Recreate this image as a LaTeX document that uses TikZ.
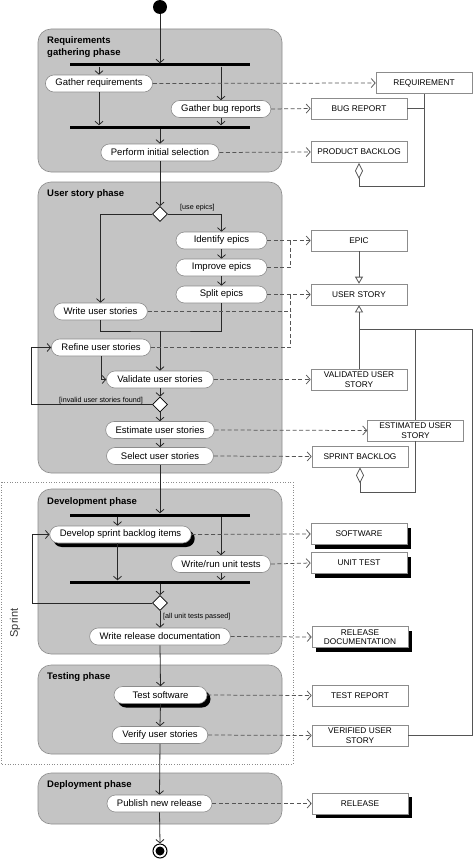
\documentclass[tikz,border=0pt]{standalone}
\usepackage{fontspec}
\setmainfont{Liberation Sans}
\usetikzlibrary{arrows.meta,shapes.geometric,shadows}

\definecolor{phasefill}{RGB}{196,196,196}
\definecolor{phaseline}{RGB}{140,140,140}
\definecolor{flowgray}{RGB}{40,40,40}
\definecolor{objgray}{RGB}{85,85,85}

\begin{document}
\begin{tikzpicture}[x=1pt,y=1pt,yscale=-1,
  phase/.style={draw=phaseline,fill=phasefill,rounded corners=13pt,line width=0.6pt,inner sep=0pt},
  phasetitle/.style={anchor=north west,align=left,inner sep=2pt,font=\fontsize{9.5}{12}\selectfont\bfseries},
  action/.style={draw=phaseline,fill=white,rounded corners=8.5pt,minimum height=17pt,inner xsep=10pt,inner ysep=0pt,line width=0.6pt,font=\fontsize{9.5}{11}\selectfont},
  shadowed/.style={drop shadow={shadow xshift=3.5pt,shadow yshift=-4pt,fill=black,opacity=1}},
  object/.style={draw=phaseline,fill=white,minimum width=96pt,minimum height=21pt,inner sep=0pt,line width=0.6pt,align=center,font=\fontsize{8.3}{9.6}\selectfont},
  bar/.style={fill=black,minimum width=180pt,minimum height=3pt,inner sep=0pt},
  decision/.style={diamond,draw=black,fill=white,minimum width=15pt,minimum height=15pt,inner sep=0pt,line width=0.7pt},
  guard/.style={font=\fontsize{7.2}{8}\selectfont,inner sep=1pt},
  flow/.style={draw=flowgray,line width=0.8pt,-{Straight Barb[length=3.5pt,width=8pt]}},
  flowline/.style={draw=flowgray,line width=0.8pt},
  objflow/.style={draw=objgray,dash pattern=on 4pt off 2.5pt,line width=0.75pt,-{Straight Barb[length=4pt,width=9pt]}},
  objline/.style={draw=objgray,dash pattern=on 4pt off 2.5pt,line width=0.75pt},
  assoc/.style={draw=objgray,line width=0.8pt},
  general/.style={assoc,-{Triangle[open,length=7pt,width=8pt,fill=white]}},
  aggreg/.style={assoc,{Diamond[open,length=16pt,width=8pt,fill=white]}-},
]
\useasboundingbox (0,0) rectangle (474,859);

%Shape: Sprint frame
\draw [phaseline,dotted,line width=0.6pt] (1,482) rectangle (293,764);
\node [rotate=90,font=\fontsize{11}{13}\selectfont,text=black!80] (sprintlbl) at (15,623) {Sprint};

%Shape: Phases
\node [phase,minimum width=244pt,minimum height=143pt] (reqphase) at (160,100.5) {};
\node [phase,minimum width=244pt,minimum height=291pt] (usphase) at (160,327.5) {};
\node [phase,minimum width=244pt,minimum height=165pt] (devphase) at (160,571.5) {};
\node [phase,minimum width=244pt,minimum height=89pt] (testphase) at (160,709.5) {};
\node [phase,minimum width=244pt,minimum height=51pt] (depphase) at (160,798.5) {};

% Text Node
\node [phasetitle] (reqtitle) at (45,34) {Requirements\\gathering phase};
\node [phasetitle] (ustitle) at (45,187) {User story phase};
\node [phasetitle] (devtitle) at (45,495) {Development phase};
\node [phasetitle] (testtitle) at (45,670) {Testing phase};
\node [phasetitle] (deptitle) at (45,778) {Deployment phase};

%Shape: Start and end
\node [circle,fill=black,minimum size=14pt,inner sep=0pt] (start) at (160,7) {};
\node [circle,draw=black,line width=1pt,fill=white,minimum size=14pt,inner sep=0pt,
  path picture={\fill [black] (path picture bounding box.center) circle (4.5pt);}] (end) at (160,851) {};

%Shape: Bars and decisions
\node [bar] (fork1) at (160,65) {};
\node [bar] (join1) at (160,127) {};
\node [bar] (fork2) at (160,515) {};
\node [bar] (join2) at (160,582) {};
\node [decision] (dec1) at (160,214) {};
\node [decision] (dec2) at (160,404.5) {};
\node [decision] (dec3) at (160,603) {};
\coordinate (merge) at (160,331);

% Actions
\node [action] (greq) at (99,83.5) {Gather requirements};
\node [action] (gbug) at (221,109) {Gather bug reports};
\node [action] (pinit) at (160,152.5) {Perform initial selection};
\node [action,minimum width=91pt] (iepic) at (221.5,240.5) {Identify epics};
\node [action,minimum width=91pt] (impepic) at (221.5,267.5) {Improve epics};
\node [action,minimum width=91pt] (sepic) at (221.5,294.5) {Split epics};
\node [action] (wus) at (100.5,311.5) {Write user stories};
\node [action] (refus) at (101,347.5) {Refine user stories};
\node [action,minimum width=107pt] (valus) at (160,379.5) {Validate user stories};
\node [action,minimum width=107pt] (estus) at (160,430) {Estimate user stories};
\node [action,minimum width=107pt] (selus) at (160,456) {Select user stories};
\node [action,shadowed] (devsb) at (120.5,534.5) {Develop sprint backlog items};
\node [action] (wrun) at (221,564) {Write/run unit tests};
\node [action] (wrd) at (160,636.5) {Write release documentation};
\node [action,shadowed,minimum width=93pt] (tsw) at (160.5,695) {Test software};
\node [action,minimum width=91pt] (vus) at (160,735) {Verify user stories};
\node [action] (pub) at (159.5,803.5) {Publish new release};

% Objects
\node [object] (oreq) at (424,83) {REQUIREMENT};
\node [object] (obug) at (359,108.5) {BUG REPORT};
\node [object] (opb) at (359,152) {PRODUCT BACKLOG};
\node [object] (oepic) at (359,240.5) {EPIC};
\node [object] (ous) at (359,294.5) {USER STORY};
\node [object] (oval) at (359,379.5) {VALIDATED USER\\STORY};
\node [object] (oest) at (415.5,430.5) {ESTIMATED USER\\STORY};
\node [object] (osb) at (360,456.5) {SPRINT BACKLOG};
\node [object,shadowed] (osw) at (359,534) {SOFTWARE};
\node [object,shadowed] (out) at (359,563) {UNIT TEST};
\node [object,shadowed] (ord) at (360,637) {RELEASE\\DOCUMENTATION};
\node [object] (otr) at (360,695.5) {TEST REPORT};
\node [object] (over) at (360,735.5) {VERIFIED USER\\STORY};
\node [object,shadowed] (orel) at (360,803.5) {RELEASE};

%Straight Lines: control flow
\draw [flow] (start) -- (fork1.north);
\draw [flow] (fork1.south -| greq.north) -- (greq.north);
\draw [flow] (fork1.south -| gbug.north) -- (gbug.north);
\draw [flow] (greq.south) -- (greq.south |- join1.north);
\draw [flow] (gbug.south) -- (gbug.south |- join1.north);
\draw [flow] (join1.south) -- (pinit.north);
\draw [flow] (pinit.south) -- (dec1.north);
\draw [flow] (dec1.east) -| (iepic.north);
\draw [flow] (dec1.west) -| (wus.north);
\draw [flow] (iepic) -- (impepic);
\draw [flow] (impepic) -- (sepic);
\draw [flowline] (wus.south) |- (merge) -| (sepic.south);
\draw [flow] (merge) -- (valus.north);
\draw [flow] (refus.south) |- (valus.west);
\draw [flow] (valus.south) -- (dec2.north);
\draw [flow] (dec2.west) -- (31,404.5) |- (refus.west);
\draw [flow] (dec2.south) -- (estus.north);
\draw [flow] (estus) -- (selus);
\draw [flow] (selus.south) -- (fork2.north);
\draw [flow] ([xshift=-3pt]devsb.north |- fork2.south) -- ([xshift=-3pt]devsb.north);
\draw [flow] (fork2.south -| wrun.north) -- (wrun.north);
\draw [flow] ([xshift=-3pt]devsb.south) -- ([xshift=-3pt]devsb.south |- join2.north);
\draw [flow] (wrun.south) -- (wrun.south |- join2.north);
\draw [flow] (join2.south) -- (dec3.north);
\draw [flow] (dec3.west) -- (32,603) |- (devsb.west);
\draw [flow] (dec3.south) -- (wrd.north);
\draw [flow] (wrd.south) -- (tsw.north);
\draw [flow] (tsw.south) -- (vus.north);
\draw [flow] (vus.south) -- (pub.north);
\draw [flow] (pub.south) -- (end.north);

% Text Node: guards
\node [guard,anchor=base west] (gepics) at (179,209) {[use epics]};
\node [guard,anchor=base east] (ginvalid) at (144,402.5) {[invalid user stories found]};
\node [guard,anchor=base west] (gpassed) at (162,618.5) {[all unit tests passed]};

%Straight Lines: object flow
\draw [objflow] (greq.east) -- (oreq.west);
\draw [objflow] (gbug.east) -- (obug.west);
\draw [objflow] (pinit.east) -- (opb.west);
\draw [objflow] (iepic.east) -- (oepic.west);
\draw [objline] (impepic.east) -| ([xshift=-20pt]oepic.west);
\draw [objflow] (sepic.east) -- (ous.west);
\draw [objline] (wus.east) -| ([xshift=-20pt]ous.west);
\draw [objline] (refus.east) -| ([xshift=-20pt]ous.west);
\draw [objflow] (valus.east) -- (oval.west);
\draw [objflow] (estus.east) -- (oest.west);
\draw [objflow] (selus.east) -- (osb.west);
\draw [objflow] (devsb.east) -- (osw.west);
\draw [objflow] (wrun.east) -- (out.west);
\draw [objflow] (wrd.east) -- (ord.west);
\draw [objflow] (tsw.east) -- (otr.west);
\draw [objflow] (vus.east) -- (over.west);
\draw [objflow] (pub.east) -- (orel.west);

%Straight Lines: object relations
\coordinate (genjoin) at (359,329);
\draw [aggreg] (opb.south) -- ++(0,24) -| (oreq.south);
\draw [assoc] (obug.east) -- (obug.east -| oreq.south);
\draw [general] (oepic.south) -- (ous.north);
\draw [general] (oval.north) -- (ous.south);
\draw [assoc] (oest.north) |- (genjoin);
\draw [assoc] (over.east) -- ++(64,0) |- (genjoin);
\draw [aggreg] (osb.south) -- ++(0,25.5) -| (oest.south);

\end{tikzpicture}
\end{document}
